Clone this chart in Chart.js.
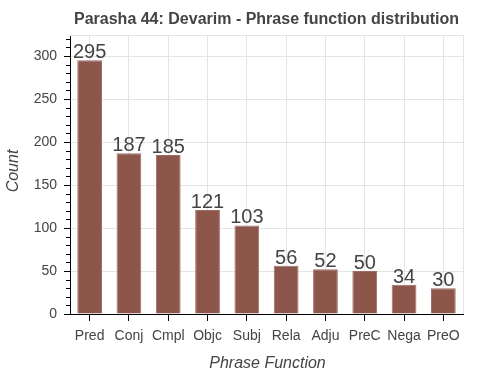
<!DOCTYPE html>
<html>
<head>
<meta charset="utf-8">
<script src="https://cdn.jsdelivr.net/npm/chart.js@4/dist/chart.umd.min.js"></script>
<style>
html,body{margin:0;padding:0;background:#fff;}
canvas{display:block;}
</style>
</head>
<body>
<canvas id="c" width="500" height="375"></canvas>
<script>
const categories = ['Pred','Conj','Cmpl','Objc','Subj','Rela','Adju','PreC','Nega','PreO'];
const counts = [295,187,185,121,103,56,52,50,34,30];
const yTickValues = [0,50,100,150,200,250,300];
const titleText = 'Parasha 44: Devarim - Phrase function distribution';
const xTitle = 'Phrase Function';
const yTitle = 'Count';

const FONT = '"Liberation Sans", Arial, Helvetica, sans-serif';

const decorPlugin = {
  id: 'decor',
  beforeDatasetsDraw(chart) {
    const ctx = chart.ctx, a = chart.chartArea;
    ctx.save();
    ctx.strokeStyle = '#e5e5e5';
    ctx.lineWidth = 1;
    ctx.beginPath();
    ctx.moveTo(a.left, Math.round(a.top) + 0.5);
    ctx.lineTo(Math.round(a.right) + 0.5, Math.round(a.top) + 0.5);
    ctx.lineTo(Math.round(a.right) + 0.5, a.bottom);
    ctx.stroke();
    ctx.restore();
  },
  afterDraw(chart) {
    const ctx = chart.ctx, a = chart.chartArea;
    const y = chart.scales.y;
    ctx.save();
    // minor ticks
    ctx.strokeStyle = '#000';
    ctx.lineWidth = 1;
    ctx.beginPath();
    for (let v = 0; v <= y.max; v += 10) {
      const py = Math.round(y.getPixelForValue(v)) + 0.5;
      ctx.moveTo(a.left - 4, py);
      ctx.lineTo(a.left, py);
    }
    ctx.stroke();
    // data labels
    const meta = chart.getDatasetMeta(0);
    ctx.fillStyle = '#444';
    ctx.font = '20px ' + FONT;
    ctx.textAlign = 'center';
    ctx.textBaseline = 'alphabetic';
    meta.data.forEach((el, i) => {
      ctx.fillText(String(counts[i]), el.x, el.y - 2);
    });
    // title
    ctx.font = 'bold 16px ' + FONT;
    ctx.fillText(titleText, (a.left + a.right) / 2, 24);
    // x title
    ctx.font = 'italic 16px ' + FONT;
    ctx.fillText(xTitle, (a.left + a.right) / 2 + 1, 368);
    // y title
    ctx.translate(18, 171);
    ctx.rotate(-Math.PI / 2);
    ctx.fillText(yTitle, 0, 0);
    ctx.restore();
  }
};

new Chart(document.getElementById('c'), {
  type: 'bar',
  data: {
    labels: categories,
    datasets: [{
      data: counts,
      backgroundColor: '#8c564b',
      borderColor: '#9c6d63',
      borderWidth: 1,
      barPercentage: 0.63,
      categoryPercentage: 1.0
    }]
  },
  options: {
    responsive: false,
    animation: false,
    layout: { padding: { top: 35, right: 37, left: 0, bottom: 0 } },
    plugins: { legend: { display: false }, tooltip: { enabled: false }, title: { display: false } },
    scales: {
      x: {
        type: 'category',
        offset: true,
        grid: { offset: false, color: '#e5e5e5', tickColor: '#000', tickLength: 7, lineWidth: 1 },
        border: { color: '#000', width: 1 },
        ticks: { color: '#444', font: { size: 14, family: FONT }, padding: 7, maxRotation: 0, autoSkip: false },
        afterFit(s) { s.height = 61; }
      },
      y: {
        min: 0,
        max: 324.5,
        afterBuildTicks(s) { s.ticks = yTickValues.map(v => ({ value: v })); },
        grid: { color: '#e5e5e5', tickColor: '#000', tickLength: 6, lineWidth: 1 },
        border: { color: '#000', width: 1 },
        ticks: { color: '#444', font: { size: 14, family: FONT }, padding: 7 },
        afterFit(s) { s.width = 70; }
      }
    }
  },
  plugins: [decorPlugin]
});
</script>
</body>
</html>
